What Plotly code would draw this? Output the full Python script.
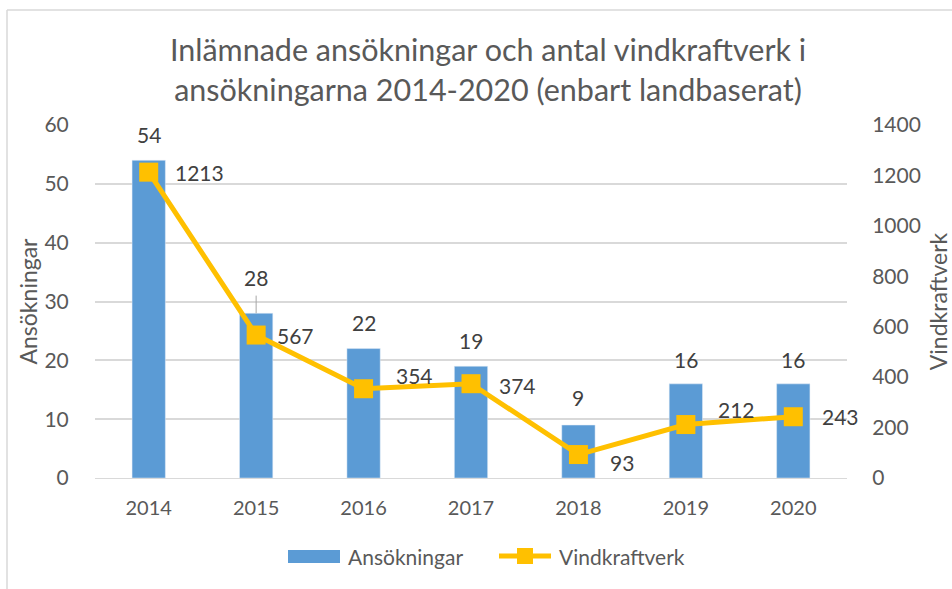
import plotly.graph_objects as go

years = ["2014", "2015", "2016", "2017", "2018", "2019", "2020"]
ansokningar = [54, 28, 22, 19, 9, 16, 16]
vindkraftverk = [1213, 567, 354, 374, 93, 212, 243]
left_ticks = [0, 10, 20, 30, 40, 50, 60]
right_ticks = [0, 200, 400, 600, 800, 1000, 1200, 1400]

# label placement offsets (pixels), mimicking the original's label layout
bar_label_yshift = [26, 36, 26, 26, 28, 24, 24]
line_label_xshift = [24, 19, 30, 26, 30, 30, 27]
line_label_yshift = [0, 0, 13, -2, -8, 15, 0]

FONT = "Lato"
GRAY = "#595959"
DARK = "#404040"
BLUE = "#5B9BD5"
GOLD = "#FFC000"

W, H = 952, 589
L, R, T, B = 95, 847, 125, 478
PW, PH = R - L, B - T


def px(x):
    return (x - L) / PW


def py(y):
    return (B - y) / PH


fig = go.Figure()
fig.add_trace(go.Bar(
    x=years, y=ansokningar, name="Ansökningar", marker_color=BLUE,
    width=0.31, showlegend=False, yaxis="y"))
fig.add_trace(go.Scatter(
    x=years, y=vindkraftverk, name="Vindkraftverk", mode="lines+markers",
    line=dict(color=GOLD, width=5), marker=dict(symbol="square", size=19, color=GOLD),
    cliponaxis=False, showlegend=False, yaxis="y2"))

annotations = []
for i, (yr, v) in enumerate(zip(years, ansokningar)):
    annotations.append(dict(text=str(v), xref="x", yref="y", x=i, y=v,
                            xanchor="center", yanchor="middle", yshift=bar_label_yshift[i],
                            showarrow=False, font=dict(family=FONT, size=21, color=DARK)))
for i, (yr, v) in enumerate(zip(years, vindkraftverk)):
    annotations.append(dict(text=str(v), xref="x", yref="y2", x=i, y=v,
                            xanchor="left", yanchor="middle",
                            xshift=line_label_xshift[i], yshift=line_label_yshift[i],
                            showarrow=False, font=dict(family=FONT, size=21, color=DARK)))

shapes = []
# leader line for 2015 bar label (category index)
i15 = years.index("2015")
shapes.append(dict(type="line", xref="x", yref="y", x0=i15, x1=i15,
                   y0=ansokningar[i15], y1=ansokningar[i15] + 3.0,
                   line=dict(color="#A6A6A6", width=1)))
# chart frame
shapes.append(dict(type="line", xref="paper", yref="paper", x0=px(7), x1=px(960),
                   y0=py(10), y1=py(10), line=dict(color="#D9D9D9", width=1.5)))
shapes.append(dict(type="line", xref="paper", yref="paper", x0=px(7), x1=px(7),
                   y0=py(10), y1=py(600), line=dict(color="#D9D9D9", width=1.5)))
# custom legend
shapes.append(dict(type="rect", xref="paper", yref="paper", x0=px(288), x1=px(340),
                   y0=py(550), y1=py(563), fillcolor=BLUE, line=dict(width=0)))
shapes.append(dict(type="line", xref="paper", yref="paper", x0=px(499), x1=px(551),
                   y0=py(556), y1=py(556), line=dict(color=GOLD, width=5)))
shapes.append(dict(type="rect", xref="paper", yref="paper", x0=px(517), x1=px(533),
                   y0=py(548), y1=py(564), fillcolor=GOLD, line=dict(width=0)))

annotations += [
    dict(text="Ansökningar", xref="paper", yref="paper", x=px(346), y=py(556),
         xanchor="left", yanchor="middle", showarrow=False,
         font=dict(family=FONT, size=21, color=GRAY)),
    dict(text="Vindkraftverk", xref="paper", yref="paper", x=px(557), y=py(556),
         xanchor="left", yanchor="middle", showarrow=False,
         font=dict(family=FONT, size=21, color=GRAY)),
]

fig.update_layout(
    width=W, height=H,
    margin=dict(l=L, r=W - R, t=T, b=H - B, autoexpand=False),
    paper_bgcolor="white", plot_bgcolor="white",
    title=dict(text="Inlämnade ansökningar och antal vindkraftverk i<br>ansökningarna 2014-2020 (enbart landbaserat)",
               x=488 / W, xanchor="center", y=1 - 61 / H, yanchor="middle",
               font=dict(family=FONT, size=30.5, color=GRAY)),
    font=dict(family=FONT, color=GRAY),
    shapes=shapes,
    annotations=annotations,
    xaxis=dict(type="category", range=[-0.5, len(years) - 0.5], showgrid=False,
               showline=True, linecolor="#D9D9D9", automargin=False,
               linewidth=1, ticks="outside", ticklen=12, tickcolor="rgba(0,0,0,0)",
               tickfont=dict(family=FONT, size=20, color=GRAY), zeroline=False),
    yaxis=dict(range=[0, 60], tickvals=left_ticks, showgrid=True, gridcolor="#D9D9D9",
               gridwidth=1.5, zeroline=False, ticks="outside", ticklen=21, automargin=False,
               tickcolor="rgba(0,0,0,0)", tickfont=dict(family=FONT, size=21, color=GRAY),
               title=dict(text="Ansökningar", font=dict(family=FONT, size=23, color=GRAY), standoff=0)),
    yaxis2=dict(range=[0, 1400], tickvals=right_ticks, overlaying="y", side="right",
                showgrid=False, zeroline=False, ticks="outside", ticklen=20, automargin=False,
                tickcolor="rgba(0,0,0,0)", tickfont=dict(family=FONT, size=21, color=GRAY),
                title=dict(text="Vindkraftverk", font=dict(family=FONT, size=23, color=GRAY), standoff=17)),
)

fig.write_html("out.html", config={"displayModeBar": False},
               post_script="document.body.style.margin='0px';")
